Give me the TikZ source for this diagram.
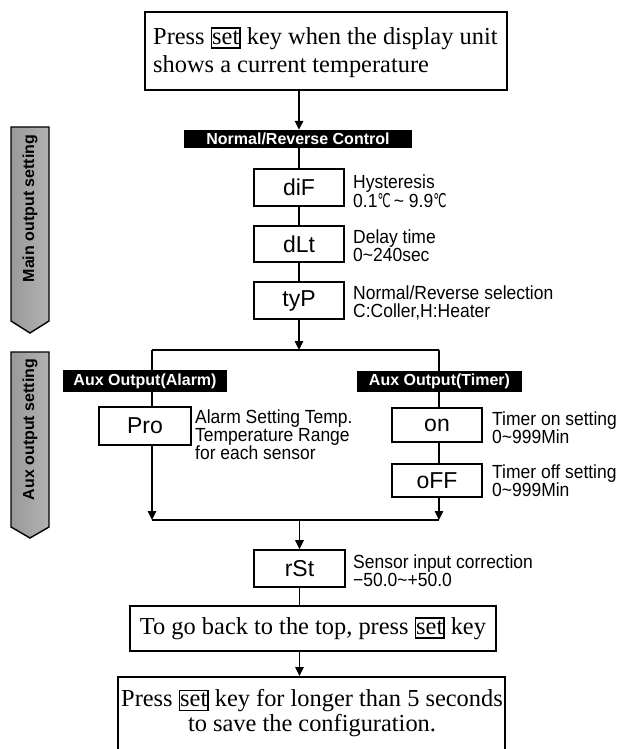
\documentclass[tikz,border=0pt]{standalone}
\usepackage{fontspec}
\setmainfont{Liberation Serif}
\setsansfont{Liberation Sans}
\newfontfamily\degfont[FakeStretch=0.62]{DejaVu Sans}
\newfontfamily\descfont[FakeStretch=0.92]{Liberation Sans}
\usetikzlibrary{arrows.meta}
\newcommand\setkey{{\setlength\fboxsep{0pt}\setlength\fboxrule{1.4pt}\fbox{\rule[-3pt]{0pt}{18.5pt}set}}}
\newcommand\degC{{\degfont ℃}}
\tikzset{
  bigbox/.style={draw, line width=2pt, inner sep=0pt},
  keybox/.style={draw, line width=1.8pt, minimum width=90, inner sep=0pt,
    font=\sffamily\fontsize{23}{23}\selectfont},
  bar/.style={fill=black, text=white, inner sep=0pt,
    font=\sffamily\bfseries\fontsize{16}{16}\selectfont},
  desc/.style={anchor=north west, align=left, inner sep=0pt,
    font=\descfont\fontsize{19}{18}\selectfont},
  serif24/.style={font=\rmfamily\fontsize{24.4}{28}\selectfont},
  conn/.style={line width=1.6pt},
  arr/.style={conn, -{Triangle[length=9pt,width=8.5pt]}},
  sidearrow/.style={draw, line width=1.4pt, left color=gray!80, middle color=white, right color=gray!60},
  sidetext/.style={rotate=90, inner sep=0pt, font=\sffamily\bfseries\fontsize{16}{16}\selectfont}
}
\begin{document}
\begin{tikzpicture}[x=1pt,y=-1pt]
\useasboundingbox[fill=white] (0,0) rectangle (625,749);

% side arrows
\path[sidearrow] (11,127) -- (49,127) -- (49,321) -- (30,333) -- (11,321) -- cycle;
\node[sidetext] (mainlbl) at (30,208.5) {Main output setting};
\path[sidearrow] (11,352) -- (49,352) -- (49,527) -- (30,538) -- (11,527) -- cycle;
\node[sidetext] (auxlbl) at (30,429.5) {Aux output setting};

% top box
\node[bigbox, minimum width=362, minimum height=78] (top) at (326,51) {};
\node[serif24, anchor=west, align=left, inner sep=0pt] (toptext) at (153,52.5)
  {Press \setkey{} key when the display unit\\shows a current temperature};

% main chain
\node[bar, minimum width=228, minimum height=18] (nrc) at (298,139) {Normal/Reverse Control};
\node[keybox, minimum height=37] (diF) at (299,187.5) {diF};
\node[keybox, minimum height=36] (dLt) at (299,244) {dLt};
\node[keybox, minimum height=37] (tyP) at (299,300.5) {tyP};

\node[desc] (dDiF) at (353,174.5) {Hysteresis\\0.1\degC\,\textasciitilde\ 9.9\degC};
\node[desc] (dDLt) at (353,229.5) {Delay time\\0\textasciitilde240sec};
\node[desc] (dTyP) at (353,286) {Normal/Reverse selection\\C:Coller,H:Heater};

\draw[arr] (diF |- top.south) -- (diF |- nrc.north);
\draw[conn] (diF |- nrc.south) -- (diF.north);
\draw[conn] (diF.south) -- (dLt.north);
\draw[conn] (dLt.south) -- (tyP.north);

\coordinate (split) at (299,350);
\coordinate (al) at (152,350);
\coordinate (tm) at (439,350);
\draw[arr] (tyP.south) -- (split);
\draw[conn] (al) -- (tm);

% aux outputs
\node[bar, minimum width=164, minimum height=22] (alarm) at (145,381) {Aux Output(Alarm)};
\node[bar, minimum width=165, minimum height=21] (timer) at (439.5,381.5) {Aux Output(Timer)};
\node[keybox, minimum width=92, minimum height=38] (Pro) at (145,426) {Pro};
\node[keybox, minimum height=34] (on) at (437,425) {on};
\node[keybox, minimum height=33] (oFF) at (437,480.5) {oFF};

\node[desc] (dPro) at (195,410) {Alarm Setting Temp.\\Temperature Range\\for each sensor};
\node[desc] (dOn) at (492,411.5) {Timer on setting\\0\textasciitilde999Min};
\node[desc] (dOff) at (492,464.5) {Timer off setting\\0\textasciitilde999Min};

\coordinate (jl) at (152,520);
\coordinate (jm) at (299.5,520);
\coordinate (jr) at (439,520);

\draw[conn] (al) -- (al |- alarm.north);
\draw[conn] (al |- alarm.south) -- (al |- Pro.north);
\draw[arr] (al |- Pro.south) -- (jl);
\draw[conn] (tm) -- (tm |- timer.north);
\draw[conn] (tm |- timer.south) -- (tm |- on.north);
\draw[conn] (tm |- on.south) -- (tm |- oFF.north);
\draw[arr] (tm |- oFF.south) -- (jr);
\draw[conn] (jl) -- (jr);

% bottom part
\node[keybox, minimum width=91, minimum height=37] (rSt) at (299.5,568.5) {rSt};
\node[desc] (dRSt) at (353,554.5) {Sensor input correction\\−50.0\textasciitilde+50.0};
\draw[arr] (jm) -- (rSt.north);

\node[bigbox, serif24, minimum width=366, minimum height=45] (goback) at (313,628.5)
  {To go back to the top, press \setkey{} key};
\draw[conn] (rSt.south) -- (rSt.south |- goback.north);

\node[bigbox, minimum width=387, minimum height=76] (final) at (311.5,715) {};
\node[align=center, inner sep=0pt, font=\rmfamily\fontsize{24.4}{24.5}\selectfont] (finaltext) at (312,713)
  {Press \setkey{} key for longer than 5 seconds\\to save the configuration.};
\draw[arr] (rSt.south |- goback.south) -- (rSt.south |- final.north);
\end{tikzpicture}
\end{document}
